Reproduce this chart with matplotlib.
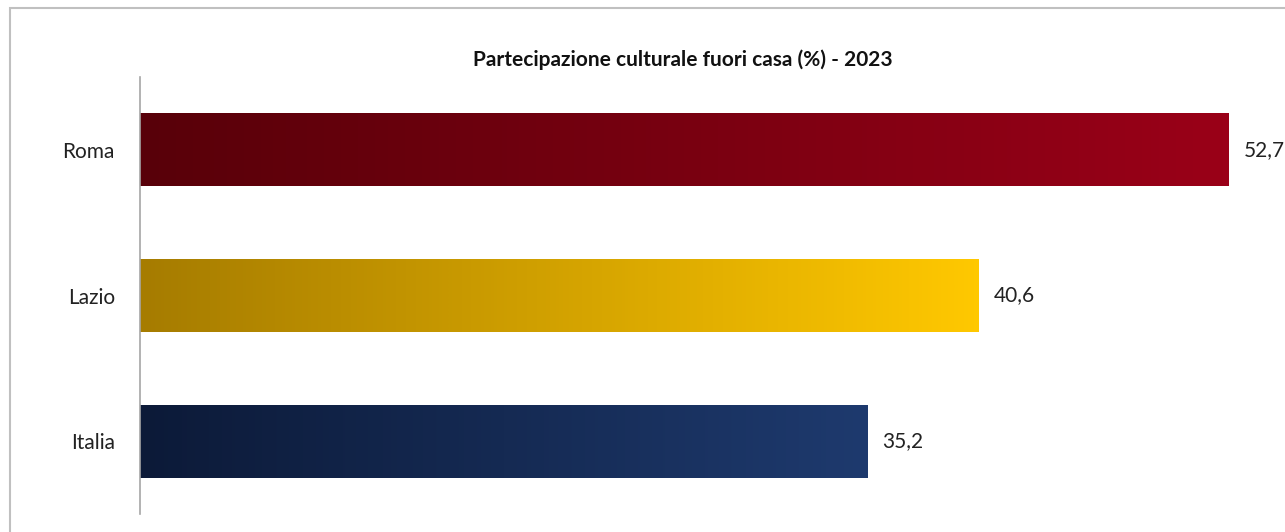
import numpy as np
import matplotlib.pyplot as plt
from matplotlib.colors import LinearSegmentedColormap
from matplotlib.patches import Rectangle

plt.rcParams['font.family'] = ['Lato', 'DejaVu Sans']

# data
categories = ['Roma', 'Lazio', 'Italia']
values = [52.7, 40.6, 35.2]
labels = ['52,7', '40,6', '35,2']
title = 'Partecipazione culturale fuori casa (%) - 2023'

# gradient colours (left -> right) for each bar
grad_left = ['#580009', '#a67c00', '#0c1a38']
grad_right = ['#9a0018', '#ffc800', '#1e3a6e']

W, H = 1285, 532
fig = plt.figure(figsize=(W / 100, H / 100), dpi=100)
ax = fig.add_axes([140 / W, 1 - 514 / H, (1265 - 140) / W, (514 - 77) / H])

bar_h = 0.5
ypos = np.arange(len(categories))
for i, (v, c0, c1) in enumerate(zip(values, grad_left, grad_right)):
    cmap = LinearSegmentedColormap.from_list('g%d' % i, [c0, c1])
    grad = np.linspace(0, 1, 256).reshape(1, -1)
    ax.imshow(grad, cmap=cmap, aspect='auto', interpolation='bilinear',
              extent=[0, v, ypos[i] - bar_h / 2, ypos[i] + bar_h / 2], zorder=2)
    ax.annotate(labels[i], (v, ypos[i]), xytext=(10.5, 0), textcoords='offset points',
                va='center', ha='left', fontsize=15, color='#222222')

ax.set_xlim(0, 1125 / (1089 / 52.7))
ax.set_ylim(len(categories) - 0.5, -0.5)
ax.set_yticks(ypos)
ax.set_yticklabels(categories, fontsize=15, color='#222222')
ax.tick_params(axis='y', length=0, pad=18)
ax.set_xticks([])
for s in ['top', 'right', 'bottom']:
    ax.spines[s].set_visible(False)
ax.spines['left'].set_color('#a6a6a6')
ax.spines['left'].set_linewidth(1.2)
ax.spines['left'].set_zorder(3)

fig.text(683 / W, 1 - 60 / H, title, ha='center', va='center',
         fontsize=15, fontweight='bold', color='#111111')

# outer chart frame (cut off at right and bottom)
fig.patches.append(Rectangle((10 / W, -0.05), 1.1, 1 - 8 / H + 0.05, transform=fig.transFigure,
                             fill=False, edgecolor='#c0c0c0', linewidth=1.5))

fig.savefig('out.png', dpi=100)
